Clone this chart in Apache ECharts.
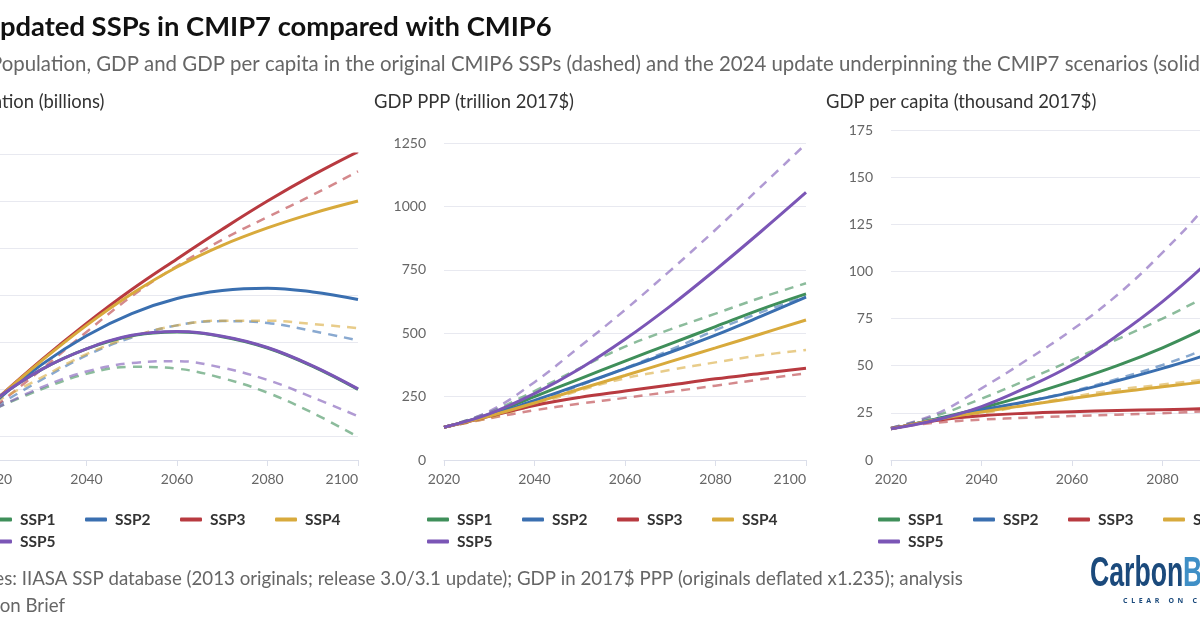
<!DOCTYPE html>
<html>
<head>
<meta charset="utf-8">
<title>Updated SSPs in CMIP7 compared with CMIP6</title>
<script src="https://cdn.jsdelivr.net/npm/echarts@6/dist/echarts.min.js"></script>
<style>
html, body { margin: 0; padding: 0; background: #fff; overflow: hidden; }
#main { width: 1200px; height: 628px; }
</style>
</head>
<body>
<div id="main"></div>
<script>
var years = [2020, 2030, 2040, 2050, 2060, 2070, 2080, 2090, 2100];
var sspNames = ['SSP1', 'SSP2', 'SSP3', 'SSP4', 'SSP5'];
var sspColors = ['#3f8f5a', '#3a6fb0', '#b83a40', '#d8aa3c', '#7b56b6'];

// Population (billions): solid = 2024 update, dashed = original
var popSsp1 = [7.8, 8.42, 8.86, 9.14, 9.22, 9.12, 8.88, 8.49, 8.0];
var popSsp2 = [7.75, 8.52, 9.14, 9.61, 9.93, 10.1, 10.15, 10.07, 9.91];
var popSsp3 = [7.78, 8.62, 9.4, 10.12, 10.77, 11.4, 12.0, 12.55, 13.05];
var popSsp4 = [7.78, 8.6, 9.36, 10.03, 10.6, 11.06, 11.43, 11.74, 12.0];
var popSsp5 = [7.8, 8.42, 8.86, 9.15, 9.23, 9.13, 8.89, 8.5, 8.01];
var popSsp1Old = [7.6, 8.0, 8.33, 8.48, 8.44, 8.24, 7.93, 7.5, 6.99];
var popSsp2Old = [7.64, 8.2, 8.72, 9.1, 9.36, 9.45, 9.41, 9.24, 9.04];
var popSsp3Old = [7.65, 8.42, 9.22, 9.98, 10.62, 11.18, 11.66, 12.13, 12.63];
var popSsp4Old = [7.74, 8.25, 8.75, 9.12, 9.36, 9.46, 9.46, 9.39, 9.3];
var popSsp5Old = [7.6, 8.04, 8.38, 8.56, 8.6, 8.46, 8.2, 7.83, 7.43];

// GDP PPP (trillion 2017$)
var gdpSsp1 = [129, 180, 250, 320, 390, 458, 526, 594, 655];
var gdpSsp2 = [129, 175, 235, 297, 360, 425, 492, 566, 642];
var gdpSsp3 = [129, 172, 215, 247, 272, 296, 320, 341, 362];
var gdpSsp4 = [129, 173, 225, 280, 333, 388, 442, 497, 552];
var gdpSsp5 = [129, 182, 262, 360, 476, 607, 750, 900, 1055];
var gdpSsp1Old = [129, 188, 272, 362, 447, 515, 577, 640, 697];
var gdpSsp2Old = [129, 170, 225, 294, 362, 434, 512, 582, 645];
var gdpSsp3Old = [129, 164, 196, 222, 245, 269, 293, 318, 342];
var gdpSsp4Old = [129, 166, 217, 274, 322, 355, 385, 413, 434];
var gdpSsp5Old = [129, 192, 307, 447, 592, 747, 908, 1077, 1247];

// GDP per capita (thousand 2017$)
var capSsp1 = [16.5, 21.8, 27.6, 34.3, 41.8, 50, 59.5, 70.5, 82];
var capSsp2 = [16.5, 21.6, 26.6, 31, 36, 42, 48.6, 56, 65];
var capSsp3 = [16.5, 21, 23.5, 24.8, 25.6, 26.2, 26.7, 27.2, 27.8];
var capSsp4 = [16.5, 21.4, 25.4, 29.1, 32.6, 35.9, 38.8, 41.8, 45.5];
var capSsp5 = [16.5, 21.2, 28.3, 38.5, 50.4, 66, 84, 105, 130];
var capSsp1Old = [17, 23.5, 32.5, 42.5, 53, 64, 75, 87, 99];
var capSsp2Old = [17, 21.8, 26.3, 31, 36.4, 43, 50.4, 59.5, 71];
var capSsp3Old = [17, 19.8, 21.4, 22.4, 23.3, 24, 24.8, 25.9, 27];
var capSsp4Old = [17, 21, 24.7, 29, 33.5, 37.3, 40, 43, 47];
var capSsp5Old = [17, 24.5, 38, 53, 69, 87.5, 110, 136, 168];

var popNew = [popSsp1, popSsp2, popSsp3, popSsp4, popSsp5];
var popOld = [popSsp1Old, popSsp2Old, popSsp3Old, popSsp4Old, popSsp5Old];
var gdpNew = [gdpSsp1, gdpSsp2, gdpSsp3, gdpSsp4, gdpSsp5];
var gdpOld = [gdpSsp1Old, gdpSsp2Old, gdpSsp3Old, gdpSsp4Old, gdpSsp5Old];
var capNew = [capSsp1, capSsp2, capSsp3, capSsp4, capSsp5];
var capOld = [capSsp1Old, capSsp2Old, capSsp3Old, capSsp4Old, capSsp5Old];

var FONT = 'Lato';
var grey = '#666666';

function pairs(values) {
    return values.map(function (v, i) { return [years[i], v]; });
}

function plain(v) {
    return String(v);
}

function panelSeries(panel, newData, oldData) {
    var list = [];
    // dashed originals go underneath
    oldData.forEach(function (d, i) {
        list.push({
            name: sspNames[i] + ' original',
            type: 'line',
            xAxisIndex: panel,
            yAxisIndex: panel,
            data: pairs(d),
            smooth: 0.4,
            showSymbol: false,
            symbol: 'none',
            lineStyle: { color: sspColors[i], width: 2.5, type: [9, 7], opacity: 0.6 },
            itemStyle: { color: sspColors[i] },
            z: 2
        });
    });
    newData.forEach(function (d, i) {
        list.push({
            name: sspNames[i],
            type: 'line',
            xAxisIndex: panel,
            yAxisIndex: panel,
            data: pairs(d),
            smooth: 0.4,
            showSymbol: false,
            symbol: 'none',
            lineStyle: { color: sspColors[i], width: 3 },
            itemStyle: { color: sspColors[i] },
            z: 3
        });
    });
    return list;
}

function xAxis(panel) {
    return {
        type: 'value',
        gridIndex: panel,
        min: 2020,
        max: 2100,
        interval: 20,
        axisLine: { show: true, lineStyle: { color: '#dcdfea', width: 1 } },
        axisTick: { show: true, length: 6, lineStyle: { color: '#dcdfea' } },
        splitLine: { show: false },
        axisLabel: {
            color: grey, fontFamily: FONT, fontSize: 14, margin: 12,
            formatter: plain, alignMaxLabel: 'right'
        }
    };
}

function yAxis(panel, opt) {
    var axis = {
        type: 'value',
        gridIndex: panel,
        min: opt.min,
        max: opt.max,
        axisLine: { show: false },
        axisTick: { show: false },
        splitLine: { lineStyle: { color: '#e8e9f0', width: 1 } },
        axisLabel: { color: grey, fontFamily: FONT, fontSize: 14, margin: 18, formatter: plain }
    };
    if (opt.interval) axis.interval = opt.interval;
    if (opt.splitNumber) {
        axis.splitNumber = opt.splitNumber;
        axis.axisLabel.showMinLabel = false;
    }
    return axis;
}

function legend(left) {
    return {
        data: sspNames,
        left: left,
        top: 509,
        width: 395,
        orient: 'horizontal',
        padding: 0,
        icon: 'roundRect',
        itemWidth: 22,
        itemHeight: 4,
        itemGap: 1,
        textStyle: {
            color: '#333333', fontFamily: FONT, fontWeight: 'bold', fontSize: 15.5,
            width: 64, lineHeight: 21, padding: [0, 0, 0, 3]
        }
    };
}

function textTitle(text, left, top, size, color, weight) {
    return {
        text: text,
        left: left,
        top: top,
        padding: 0,
        textStyle: { color: color, fontFamily: FONT, fontSize: size, fontWeight: weight || 'normal' }
    };
}

var chart = echarts.init(document.getElementById('main'), null, { renderer: 'canvas' });
chart.setOption({
    animation: false,
    backgroundColor: '#ffffff',
    title: [
        textTitle('Updated SSPs in CMIP7 compared with CMIP6', -20, 14, 27.4, '#111111', 'bold'),
        textTitle('Population, GDP and GDP per capita in the original CMIP6 SSPs (dashed) and the 2024 update underpinning the CMIP7 scenarios (solid)', -10, 54, 20.4, grey),
        textTitle('Population (billions)', -53, 93, 18.4, '#333333'),
        textTitle('GDP PPP (trillion 2017$)', 374, 93, 18.4, '#333333'),
        textTitle('GDP per capita (thousand 2017$)', 826, 93, 18.4, '#333333'),
        textTitle('Sources: IIASA SSP database (2013 originals; release 3.0/3.1 update); GDP in 2017$ PPP (originals deflated x1.235); analysis', -52, 569, 18.7, grey),
        textTitle('by Carbon Brief', -64, 596, 18.7, grey)
    ],
    legend: [legend(-10), legend(427), legend(878)],
    grid: [
        { left: -4, top: 154, width: 362, height: 306, outerBoundsMode: 'none' },
        { left: 444, top: 143, width: 362, height: 317, outerBoundsMode: 'none' },
        { left: 891, top: 130, width: 362, height: 330, outerBoundsMode: 'none' }
    ],
    xAxis: [xAxis(0), xAxis(1), xAxis(2)],
    yAxis: [
        yAxis(0, { min: 6.5, max: 13, splitNumber: 6 }),
        yAxis(1, { min: 0, max: 1250, interval: 250 }),
        yAxis(2, { min: 0, max: 175, interval: 25 })
    ],
    series: panelSeries(0, popNew, popOld)
        .concat(panelSeries(1, gdpNew, gdpOld))
        .concat(panelSeries(2, capNew, capOld)),
    graphic: [
        { type: 'text', x: 1090, y: 553, scaleX: 0.62, style: { text: 'Carbon', fill: '#1b4a7c', font: 'bold 43px "Liberation Sans"' } },
        { type: 'text', x: 1183, y: 553, scaleX: 0.62, style: { text: 'Brief', fill: '#3f8fc6', font: 'bold 43px "Liberation Sans"' } },
        { type: 'text', x: 1123, y: 597, style: { text: 'C  L  E  A  R     O  N     C  L  I  M  A  T  E', fill: '#1b4a7c', font: 'bold 7px "Noto Sans"' } }
    ]
});
</script>
</body>
</html>
